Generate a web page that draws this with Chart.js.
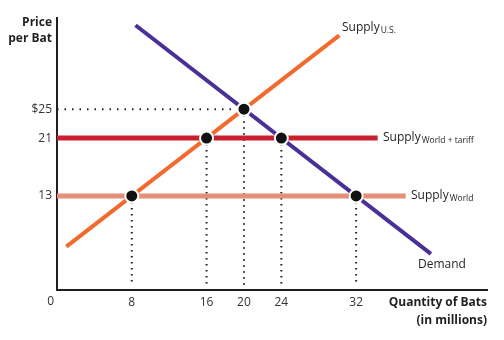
<!DOCTYPE html>
<html lang="en">
<head>
<meta charset="UTF-8">
<title>Tariff on Bats</title>
<script src="https://cdn.jsdelivr.net/npm/chart.js"></script>
<style>
    html, body { margin: 0; padding: 0; background: #fff; }
    #wrap { width: 504px; height: 340px; }
</style>
</head>
<body>
<div id="wrap"><canvas id="myChart"></canvas></div>
<script>
    // values
    var xTicks = [8, 16, 20, 24, 32];
    var yTicks = [13, 21, 25];
    var supplyUS = [{x: 1, y: 6}, {x: 30.2, y: 35.2}];
    var demand = [{x: 8.4, y: 36.6}, {x: 40, y: 5}];
    var supplyTariff = [{x: 0, y: 21}, {x: 34.3, y: 21}];
    var supplyWorld = [{x: 0, y: 13}, {x: 37.3, y: 13}];
    var equilibria = [{x: 8, y: 13}, {x: 16, y: 21}, {x: 20, y: 25}, {x: 24, y: 21}, {x: 32, y: 13}];
    var priceGuide = [{x: 0, y: 25}, {x: 20, y: 25}];

    var FONT = '"Open Sans", Lato, sans-serif';
    var INK = '#231f20';

    // dotted drop lines from each point to the quantity axis
    var guides = equilibria.map(function (p) {
        return {
            data: [{x: p.x, y: p.y}, {x: p.x, y: 0.6}],
            borderColor: INK, borderWidth: 2, borderDash: [1.5, 4.5],
            pointRadius: 0
        };
    });
    guides.push({
        data: priceGuide, borderColor: INK, borderWidth: 2, borderDash: [1.5, 6],
        pointRadius: 0
    });

    var labels = {
        id: 'labels',
        afterDraw: function (chart) {
            var c = chart.ctx;
            c.save();
            c.fillStyle = INK;
            c.textBaseline = 'middle';

            c.font = 'bold 12px ' + FONT;
            c.textAlign = 'right';
            c.fillText('Price', 52, 23);
            c.fillText('per Bat', 52, 39);
            c.fillText('Quantity of Bats', 487, 303);
            c.fillText('(in millions)', 487, 321);

            c.font = '12px ' + FONT;
            c.fillStyle = '#333';
            c.fillText('0', 54, 302);
            c.fillStyle = INK;

            function sub(main, small, x, y) {
                c.textAlign = 'left';
                c.font = '12px ' + FONT;
                c.fillText(main, x, y);
                var w = c.measureText(main).width;
                c.font = '8.5px ' + FONT;
                c.fillText(small, x + w + 1, y + 3);
            }
            sub('Supply', 'U.S.', 342, 28);
            sub('Supply', 'World + tariff', 383, 138);
            sub('Supply', 'World', 411, 196);

            c.textAlign = 'left';
            c.font = '12px ' + FONT;
            c.fillText('Demand', 418, 265);
            c.restore();
        }
    };

    var ctx = document.getElementById('myChart').getContext('2d');
    var myChart = new Chart(ctx, {
        type: 'line',
        data: {
            datasets: [{
                data: equilibria, showLine: false,
                pointRadius: 6.5, pointBackgroundColor: '#111',
                pointBorderColor: '#fff', pointBorderWidth: 2
            }, {
                data: demand, borderColor: '#4a2f97', borderWidth: 4, pointRadius: 0
            }, {
                data: supplyUS, borderColor: '#f26a2e', borderWidth: 4, pointRadius: 0
            }, {
                data: supplyTariff, borderColor: '#c8202f', borderWidth: 5, pointRadius: 0
            }, {
                data: supplyWorld, borderColor: '#e58e78', borderWidth: 5, pointRadius: 0
            }].concat(guides)
        },
        options: {
            responsive: true,
            maintainAspectRatio: false,
            animation: false,
            layout: { padding: { top: 18, right: 17, left: 0, bottom: 0 } },
            plugins: { legend: { display: false }, tooltip: { enabled: false } },
            scales: {
                x: {
                    type: 'linear', min: 0, max: 46,
                    grid: { display: false, drawTicks: false },
                    border: { color: INK, width: 2 },
                    afterBuildTicks: function (s) { s.ticks = xTicks.map(function (v) { return {value: v}; }); },
                    afterFit: function (s) { s.height = 50; },
                    ticks: { color: '#333', padding: 5, font: { family: FONT, size: 12 }, maxRotation: 0 }
                },
                y: {
                    type: 'linear', min: 0, max: 37.6,
                    grid: { display: false, drawTicks: false },
                    border: { color: INK, width: 2 },
                    afterBuildTicks: function (s) { s.ticks = yTicks.map(function (v) { return {value: v}; }); },
                    afterFit: function (s) { s.width = 57; },
                    ticks: {
                        color: '#333', padding: 5, font: { family: FONT, size: 12 },
                        callback: function (v) { return v === 25 ? '$25' : v; }
                    }
                }
            }
        },
        plugins: [labels]
    });
</script>
</body>
</html>
